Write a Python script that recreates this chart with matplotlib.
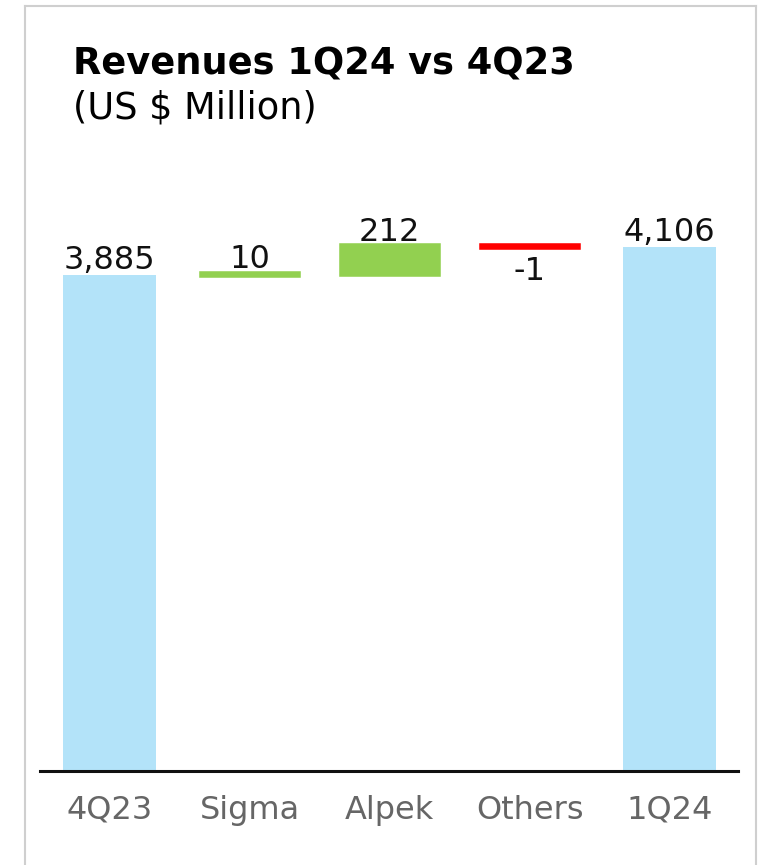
import numpy as np
import matplotlib.pyplot as plt
from matplotlib.lines import Line2D

# Datos del gráfico (US $ millones)
categorias = ["4Q23", "Sigma", "Alpek", "Others", "1Q24"]
inicio = 3885
variaciones = [10, 212, -1]
final = 4106
etiquetas = ["3,885", "10", "212", "-1", "4,106"]

# Colores
azul = "#B3E3F9"
verde = "#92D050"
rojo = "#FF0000"

# Construimos bases y alturas de la cascada
alturas = [inicio] + variaciones + [final]
bases = [0]
acum = inicio
for v in variaciones:
    bases.append(acum)
    acum += v
bases.append(0)
colores = [azul] + [verde if v >= 0 else rojo for v in variaciones] + [azul]

fig = plt.figure(figsize=(7.64, 8.65), dpi=100)
W, H = 764, 865
ax = fig.add_axes([40 / W, 1 - 771 / H, (738 - 40) / W, (771 - 200) / H])

x = np.arange(len(categorias))
for i in range(len(categorias)):
    if i in (0, len(categorias) - 1):
        ax.bar(x[i], alturas[i], bottom=bases[i], width=0.665, color=colores[i], linewidth=0)
    else:
        ax.bar(x[i], alturas[i], bottom=bases[i], width=0.685, color=colores[i],
               edgecolor=colores[i], linewidth=4)

# Etiquetas de valor
for i in range(len(categorias)):
    tope = bases[i] + alturas[i]
    if alturas[i] >= 0:
        ax.annotate(etiquetas[i], (x[i], tope), xytext=(0, -1), textcoords="offset points",
                    ha="center", va="bottom", fontsize=23, color="#111111")
    else:
        ax.annotate(etiquetas[i], (x[i], bases[i] + alturas[i]), xytext=(0, -7),
                    textcoords="offset points", ha="center", va="top", fontsize=23,
                    color="#111111")

ax.set_xlim(-0.497, 4.487)
ax.set_ylim(0, 4471)
ax.set_xticks(x)
ax.set_xticklabels(categorias, fontsize=23, color="#666666")
ax.tick_params(axis="x", length=0, pad=17)
ax.set_yticks([])
for lado in ["top", "right", "left"]:
    ax.spines[lado].set_visible(False)
ax.spines["bottom"].set_linewidth(2.2)
ax.spines["bottom"].set_color("#111111")

# Títulos
fig.text(73 / W, 1 - 75 / H, "Revenues 1Q24 vs 4Q23", fontsize=26.5, fontweight="bold",
         ha="left", va="baseline")
fig.text(73 / W, 1 - 118 / H, "(US $ Million)", fontsize=26.5, ha="left", va="baseline")

# Marco gris alrededor
marco = "#CFCFCF"
fig.add_artist(Line2D([25 / W, 25 / W], [0, 1 - 6 / H], color=marco, lw=1.5))
fig.add_artist(Line2D([756 / W, 756 / W], [0, 1 - 6 / H], color=marco, lw=1.5))
fig.add_artist(Line2D([25 / W, 756 / W], [1 - 6 / H, 1 - 6 / H], color=marco, lw=1.5))

fig.savefig("out.png", dpi=100)
